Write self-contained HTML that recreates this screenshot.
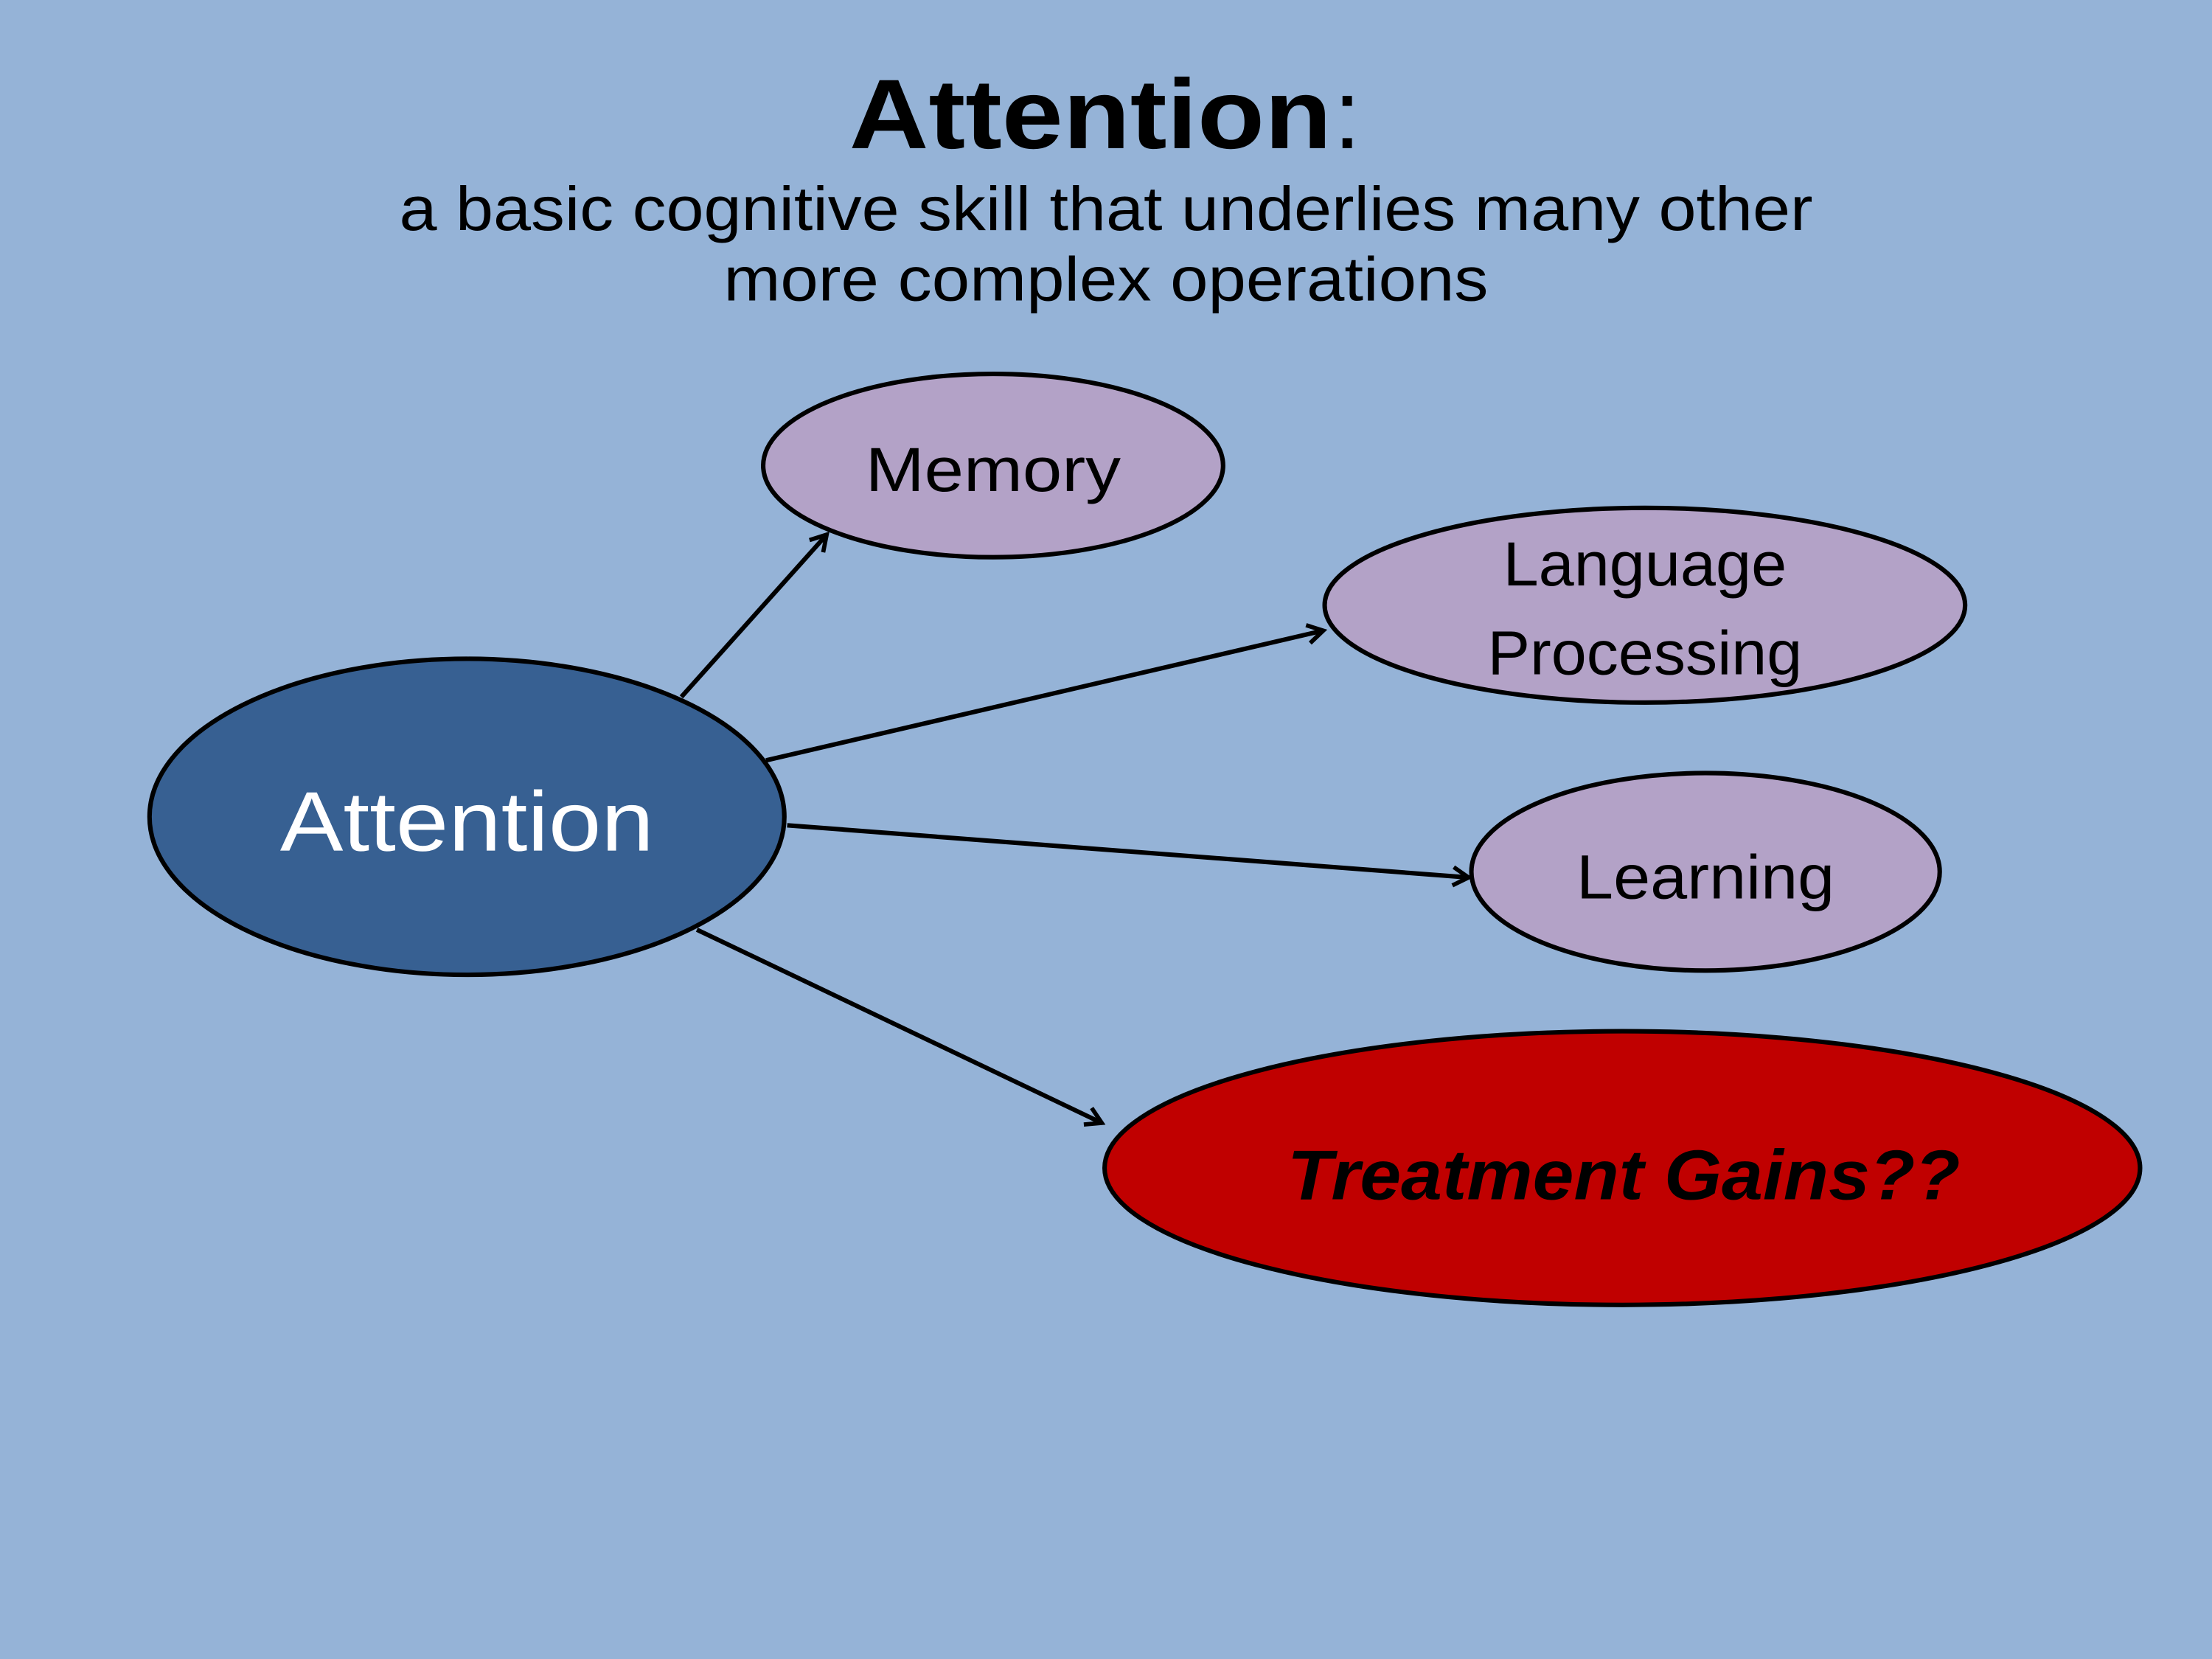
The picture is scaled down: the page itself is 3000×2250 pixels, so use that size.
<!DOCTYPE html>
<html><head><meta charset="utf-8"><style>
html,body{margin:0;padding:0;background:#95B3D7;}
svg{display:block;}
text{font-family:"Liberation Sans",sans-serif;}
</style></head><body>
<svg width="3000" height="2250" viewBox="0 0 1568 1176" preserveAspectRatio="none" xmlns="http://www.w3.org/2000/svg">
<defs>
<marker id="a" markerWidth="16" markerHeight="16" refX="13" refY="8" orient="auto" markerUnits="userSpaceOnUse">
<path d="M2,1.5 L13,8 L2,14.5" fill="none" stroke="#000" stroke-width="3"/>
</marker>
</defs>
<rect width="1568" height="1176" fill="#95B3D7"/>
<text x="784" y="105" text-anchor="middle" font-size="70" font-weight="bold" textLength="342" lengthAdjust="spacingAndGlyphs" dx="-11">Attention</text>
<text x="955" y="105" font-size="70" text-anchor="middle">:</text>
<text x="784" y="163" text-anchor="middle" font-size="44" textLength="1002" lengthAdjust="spacingAndGlyphs">a basic cognitive skill that underlies many other</text>
<text x="784" y="213" text-anchor="middle" font-size="44" textLength="542" lengthAdjust="spacingAndGlyphs">more complex operations</text>

<g stroke="#000" stroke-width="3.2" fill="none" marker-end="url(#a)">
<line x1="483" y1="494" x2="586" y2="379"/>
<line x1="543" y1="539" x2="938" y2="447"/>
<line x1="558" y1="585" x2="1041" y2="622"/>
<line x1="494" y1="659" x2="781" y2="796"/>
</g>

<g stroke="#000" stroke-width="3.2">
<ellipse cx="331" cy="579" rx="225" ry="112" fill="#376092"/>
<ellipse cx="704" cy="330" rx="163" ry="65" fill="#B3A2C7"/>
<ellipse cx="1166" cy="429" rx="227" ry="69" fill="#B3A2C7"/>
<ellipse cx="1209" cy="618" rx="166" ry="70" fill="#B3A2C7"/>
<ellipse cx="1150" cy="828" rx="367" ry="97" fill="#C00000"/>
</g>

<text x="331" y="603" text-anchor="middle" font-size="60" fill="#fff" textLength="265" lengthAdjust="spacingAndGlyphs">Attention</text>
<text x="704" y="348" text-anchor="middle" font-size="44" textLength="181" lengthAdjust="spacingAndGlyphs">Memory</text>
<text x="1166" y="415" text-anchor="middle" font-size="44" textLength="201" lengthAdjust="spacingAndGlyphs">Language</text>
<text x="1166" y="478" text-anchor="middle" font-size="44" textLength="223" lengthAdjust="spacingAndGlyphs">Processing</text>
<text x="1209" y="637" text-anchor="middle" font-size="44" textLength="183" lengthAdjust="spacingAndGlyphs">Learning</text>
<text x="1151" y="850" text-anchor="middle" font-size="50" font-weight="bold" font-style="italic" textLength="477" lengthAdjust="spacingAndGlyphs">Treatment Gains??</text>
</svg>
</body></html>
